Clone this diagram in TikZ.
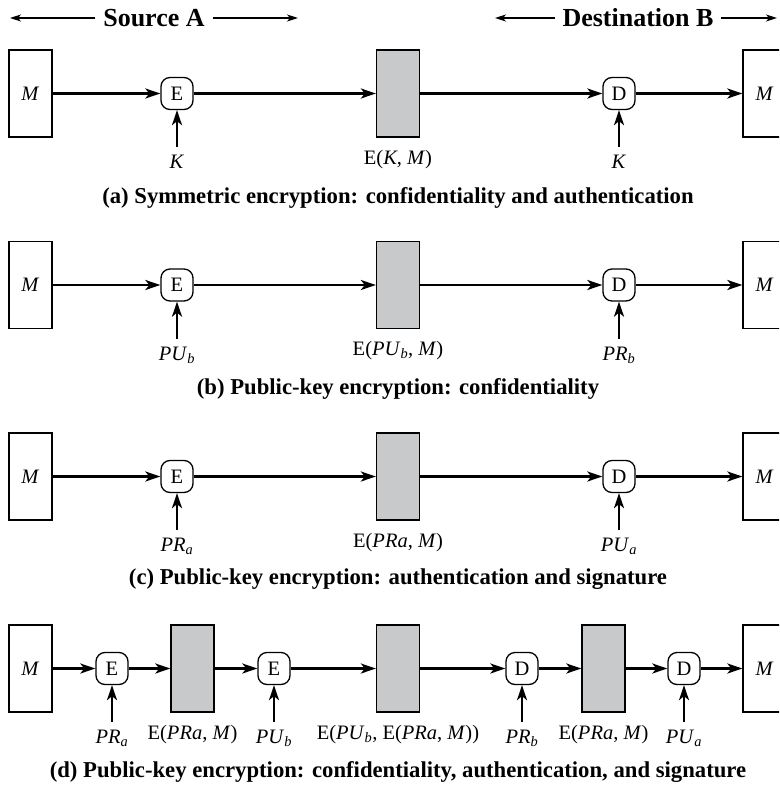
\documentclass[tikz,border=0pt]{standalone}
\usepackage{fontspec}
\setmainfont{Liberation Serif}
\usetikzlibrary{positioning,arrows.meta}

\definecolor{boxgray}{RGB}{200,201,203}
\newcommand{\lblfont}{\fontsize{20.5}{24}\selectfont}
\newcommand{\capfont}{\fontsize{22.7}{26}\selectfont\bfseries}
\newcommand{\hdrfont}{\fontsize{26}{30}\selectfont\bfseries}
\newcommand{\keysub}[2]{\textit{#1}\textsubscript{\textit{#2}}}

\begin{document}
\begin{tikzpicture}[x=1pt, y=-1pt,
    msgbox/.style={rectangle, draw, line width=1.3pt, minimum width=43pt, minimum height=87pt, inner sep=0pt, font=\lblfont},
    ctbox/.style={msgbox, fill=boxgray},
    op/.style={rectangle, rounded corners=9pt, draw, line width=1.3pt, minimum size=32pt, inner sep=0pt, font=\lblfont},
    keylbl/.style={inner sep=0pt, outer sep=8pt, font=\lblfont},
    ctlbl/.style={inner sep=0pt, font=\lblfont},
    caption/.style={font=\capfont},
    header/.style={font=\hdrfont, inner sep=0pt, outer sep=8pt},
    arrow/.style={->, >={Stealth[length=15pt, width=10pt, inset=4pt]}, line width=2.3pt},
    span/.style={->, >={Stealth[length=11pt, width=7pt, inset=3pt]}, line width=1.1pt}
]

\clip (0,0) rectangle (779,787);
\fill[white] (0,0) rectangle (779,787);

% Header
\node[header] (src) at (154,18) {Source A};
\node[header] (dst) at (638,18) {Destination B};
\coordinate (srcL) at (10,18);
\coordinate (srcR) at (298,18);
\coordinate (dstL) at (495,18);
\coordinate (dstR) at (777,18);
\draw[span] (src) -- (srcL);
\draw[span] (src) -- (srcR);
\draw[span] (dst) -- (dstL);
\draw[span] (dst) -- (dstR);

% (a) symmetric
\node[msgbox] (mA) at (30.5,93.5) {\textit{M}};
\node[op] (eA) at (177,93.5) {E};
\node[ctbox] (cA) at (398,93.5) {};
\node[op] (dA) at (619,93.5) {D};
\node[msgbox] (oA) at (764.5,93.5) {\textit{M}};
\node[keylbl, below=37pt of eA] (kEA) {\textit{K}};
\node[keylbl, below=37pt of dA] (kDA) {\textit{K}};
\node[ctlbl, below=12pt of cA] (tA) {E(\textit{K}, \textit{M})};
\node[caption] (capA) at (398,197.5) {(a) Symmetric encryption: confidentiality and authentication};
\draw[arrow] (mA) -- (eA);
\draw[arrow] (eA) -- (cA);
\draw[arrow] (cA) -- (dA);
\draw[arrow] (dA) -- (oA);
\draw[arrow] (kEA) -- (eA);
\draw[arrow] (kDA) -- (dA);

% (b) confidentiality
\node[msgbox] (mB) at (30.5,285) {\textit{M}};
\node[op] (eB) at (177,285) {E};
\node[ctbox] (cB) at (398,285) {};
\node[op] (dB) at (619,285) {D};
\node[msgbox] (oB) at (764.5,285) {\textit{M}};
\node[keylbl, below=37pt of eB] (kEB) {\keysub{PU}{b}};
\node[keylbl, below=37pt of dB] (kDB) {\keysub{PR}{b}};
\node[ctlbl, below=12pt of cB] (tB) {E(\keysub{PU}{b}, \textit{M})};
\node[caption] (capB) at (398,389) {(b) Public-key encryption: confidentiality};
\draw[arrow] (mB) -- (eB);
\draw[arrow] (eB) -- (cB);
\draw[arrow] (cB) -- (dB);
\draw[arrow] (dB) -- (oB);
\draw[arrow] (kEB) -- (eB);
\draw[arrow] (kDB) -- (dB);

% (c) authentication and signature
\node[msgbox] (mC) at (30.5,476.5) {\textit{M}};
\node[op] (eC) at (177,476.5) {E};
\node[ctbox] (cC) at (398,476.5) {};
\node[op] (dC) at (619,476.5) {D};
\node[msgbox] (oC) at (764.5,476.5) {\textit{M}};
\node[keylbl, below=37pt of eC] (kEC) {\keysub{PR}{a}};
\node[keylbl, below=37pt of dC] (kDC) {\keysub{PU}{a}};
\node[ctlbl, below=12pt of cC] (tC) {E(\textit{PRa}, \textit{M})};
\node[caption] (capC) at (398,579) {(c) Public-key encryption: authentication and signature};
\draw[arrow] (mC) -- (eC);
\draw[arrow] (eC) -- (cC);
\draw[arrow] (cC) -- (dC);
\draw[arrow] (dC) -- (oC);
\draw[arrow] (kEC) -- (eC);
\draw[arrow] (kDC) -- (dC);

% (d) both
\node[msgbox] (mD) at (30.5,668.5) {\textit{M}};
\node[op] (e1D) at (112,668.5) {E};
\node[ctbox] (c1D) at (192.5,668.5) {};
\node[op] (e2D) at (274,668.5) {E};
\node[ctbox] (c2D) at (398,668.5) {};
\node[op] (d1D) at (522,668.5) {D};
\node[ctbox] (c3D) at (603.5,668.5) {};
\node[op] (d2D) at (684,668.5) {D};
\node[msgbox] (oD) at (764.5,668.5) {\textit{M}};
\node[keylbl, below=37pt of e1D] (k1D) {\keysub{PR}{a}};
\node[keylbl, below=37pt of e2D] (k2D) {\keysub{PU}{b}};
\node[keylbl, below=37pt of d1D] (k3D) {\keysub{PR}{b}};
\node[keylbl, below=37pt of d2D] (k4D) {\keysub{PU}{a}};
\node[ctlbl, below=12pt of c1D] (t1D) {E(\textit{PRa}, \textit{M})};
\node[ctlbl, below=12pt of c2D] (t2D) {E(\keysub{PU}{b}, E(\textit{PRa}, \textit{M}))};
\node[ctlbl, below=12pt of c3D] (t3D) {E(\textit{PRa}, \textit{M})};
\node[caption] (capD) at (398,772) {(d) Public-key encryption: confidentiality, authentication, and signature};
\draw[arrow] (mD) -- (e1D);
\draw[arrow] (e1D) -- (c1D);
\draw[arrow] (c1D) -- (e2D);
\draw[arrow] (e2D) -- (c2D);
\draw[arrow] (c2D) -- (d1D);
\draw[arrow] (d1D) -- (c3D);
\draw[arrow] (c3D) -- (d2D);
\draw[arrow] (d2D) -- (oD);
\draw[arrow] (k1D) -- (e1D);
\draw[arrow] (k2D) -- (e2D);
\draw[arrow] (k3D) -- (d1D);
\draw[arrow] (k4D) -- (d2D);

\end{tikzpicture}
\end{document}
